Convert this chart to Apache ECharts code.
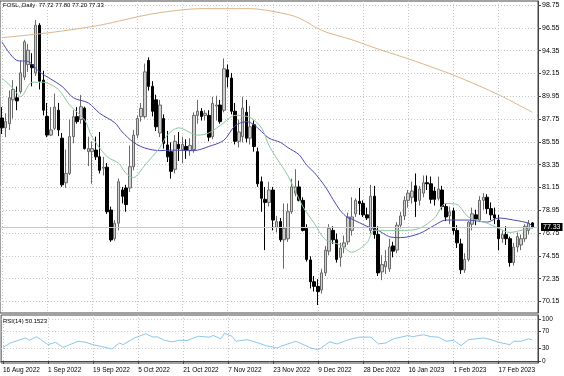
<!DOCTYPE html>
<html>
<head>
<meta charset="utf-8">
<title>FOSL Daily</title>
<script src="https://cdn.jsdelivr.net/npm/echarts/dist/echarts.min.js"></script>
<style>
  html, body { margin: 0; padding: 0; background: #fff; }
  #chart { width: 564px; height: 376px; }
</style>
</head>
<body>
<div id="chart"></div>
<script>
// trading days shown on the chart
var dates = ['16 Aug 2022','17 Aug 2022','18 Aug 2022','19 Aug 2022','22 Aug 2022','23 Aug 2022','24 Aug 2022','25 Aug 2022','26 Aug 2022','29 Aug 2022','30 Aug 2022','31 Aug 2022',
  '1 Sep 2022','2 Sep 2022','5 Sep 2022','6 Sep 2022','7 Sep 2022','8 Sep 2022','9 Sep 2022','12 Sep 2022','13 Sep 2022','14 Sep 2022','15 Sep 2022','16 Sep 2022',
  '19 Sep 2022','20 Sep 2022','21 Sep 2022','22 Sep 2022','23 Sep 2022','26 Sep 2022','27 Sep 2022','28 Sep 2022','29 Sep 2022','30 Sep 2022','3 Oct 2022','4 Oct 2022',
  '5 Oct 2022','6 Oct 2022','7 Oct 2022','10 Oct 2022','11 Oct 2022','12 Oct 2022','13 Oct 2022','14 Oct 2022','17 Oct 2022','18 Oct 2022','19 Oct 2022','20 Oct 2022',
  '21 Oct 2022','24 Oct 2022','25 Oct 2022','26 Oct 2022','27 Oct 2022','28 Oct 2022','30 Oct 2022','31 Oct 2022','1 Nov 2022','2 Nov 2022','3 Nov 2022','4 Nov 2022',
  '7 Nov 2022','8 Nov 2022','9 Nov 2022','10 Nov 2022','11 Nov 2022','14 Nov 2022','15 Nov 2022','16 Nov 2022','17 Nov 2022','18 Nov 2022','21 Nov 2022','22 Nov 2022',
  '23 Nov 2022','24 Nov 2022','25 Nov 2022','28 Nov 2022','29 Nov 2022','30 Nov 2022','1 Dec 2022','2 Dec 2022','5 Dec 2022','6 Dec 2022','7 Dec 2022','8 Dec 2022',
  '9 Dec 2022','12 Dec 2022','13 Dec 2022','14 Dec 2022','15 Dec 2022','16 Dec 2022','19 Dec 2022','20 Dec 2022','21 Dec 2022','22 Dec 2022','23 Dec 2022','27 Dec 2022',
  '28 Dec 2022','29 Dec 2022','30 Dec 2022','3 Jan 2023','4 Jan 2023','5 Jan 2023','6 Jan 2023','9 Jan 2023','10 Jan 2023','11 Jan 2023','12 Jan 2023','13 Jan 2023',
  '16 Jan 2023','17 Jan 2023','18 Jan 2023','19 Jan 2023','20 Jan 2023','23 Jan 2023','24 Jan 2023','25 Jan 2023','26 Jan 2023','27 Jan 2023','30 Jan 2023','31 Jan 2023',
  '1 Feb 2023','2 Feb 2023','3 Feb 2023','6 Feb 2023','7 Feb 2023','8 Feb 2023','9 Feb 2023','10 Feb 2023','13 Feb 2023','14 Feb 2023','15 Feb 2023','16 Feb 2023',
  '17 Feb 2023','20 Feb 2023','21 Feb 2023','22 Feb 2023','23 Feb 2023','24 Feb 2023','27 Feb 2023','28 Feb 2023','1 Mar 2023','2 Mar 2023'];

var opens = [87.85,86.9,87.3,89.6,89.8,90.4,91.8,93.0,93.0,92.2,96.8,91.5,
  88.0,86.2,86.85,88.6,85.9,81.6,82.5,86.05,87.98,87.7,88.8,84.6,
  84.6,84.75,84.1,83.0,83.1,78.97,76.2,77.7,80.9,81.1,81.1,83.15,
  86.2,87.98,87.98,93.4,90.9,89.6,86.4,87.8,85.25,84.6,82.9,85.3,
  84.8,85.1,84.7,84.8,88.1,88.5,88.1,88.1,86.05,89.0,89.1,88.6,
  92.5,91.7,88.5,85.6,86.05,88.4,85.9,87.2,84.6,81.7,80.0,79.7,
  80.9,77.3,77.85,76.1,76.2,78.8,80.6,81.2,79.9,77.2,74.15,72.05,
  71.6,71.25,72.9,75.0,77.0,76.1,74.4,75.4,75.9,77.0,78.6,79.8,
  79.6,78.5,77.0,80.3,76.6,73.0,73.5,73.3,75.5,75.1,77.5,78.4,
  79.9,80.2,81.3,79.9,80.6,81.6,81.5,80.8,80.1,80.9,79.3,78.4,
  78.9,77.0,75.7,73.2,74.2,77.6,78.5,78.0,79.9,80.2,79.1,78.5,
  78.0,76.2,76.6,76.2,73.9,75.4,75.6,76.2,77.0,77.72];

var highs = [88.9,88.3,90.5,91.5,90.9,93.4,95.4,95.0,94.1,97.3,97.0,92.4,
  89.3,88.9,90.2,89.3,86.4,84.8,87.7,88.6,88.9,90.07,88.94,86.05,
  85.6,86.05,86.5,84.1,83.5,79.3,78.0,82.0,81.2,81.4,85.2,86.7,
  88.1,89.3,93.1,93.7,91.4,90.1,89.6,88.2,86.6,85.5,86.2,86.5,
  86.0,85.8,85.9,88.4,89.6,88.8,88.6,88.6,89.9,90.0,89.6,93.6,
  93.0,92.2,89.3,87.7,89.9,89.6,89.0,87.6,85.0,82.2,81.2,81.7,
  81.2,78.4,78.2,79.6,79.6,82.0,82.9,81.8,80.2,77.6,74.5,72.6,
  72.3,73.3,75.5,77.6,77.4,76.7,75.8,76.5,78.7,80.2,80.1,81.1,
  79.9,79.2,81.4,81.3,77.4,74.6,75.1,76.2,75.9,77.8,78.8,80.3,
  80.9,81.7,82.5,81.3,82.3,82.3,82.2,81.2,82.2,81.3,79.6,79.3,
  79.2,77.5,76.2,74.8,77.9,79.2,79.0,80.3,80.6,80.5,79.7,79.2,
  78.5,77.0,77.4,76.4,75.8,76.8,76.6,77.6,78.0,77.80];

var lows = [86.3,86.0,86.7,87.8,88.6,90.2,91.5,92.3,90.9,91.9,90.6,88.1,
  86.0,86.1,86.7,86.1,81.2,81.1,82.35,85.4,87.3,87.3,84.8,83.2,
  81.5,83.8,82.5,82.3,78.6,75.9,76.0,77.0,79.6,78.8,80.7,82.8,
  85.9,87.5,87.8,90.5,88.0,86.6,86.0,84.9,83.6,82.0,82.5,83.7,
  83.5,83.9,84.2,84.5,87.3,87.6,87.6,85.6,85.8,87.6,87.3,88.4,
  90.8,88.2,85.3,85.0,85.5,85.5,85.3,84.6,81.2,78.8,75.1,79.3,
  77.0,76.8,75.9,73.3,75.9,78.6,80.3,79.8,76.9,74.0,71.4,71.1,
  69.8,70.9,72.6,74.6,75.7,73.9,73.5,74.8,75.6,76.5,78.3,78.5,
  78.3,78.0,76.7,76.2,72.6,72.2,72.8,73.0,74.4,74.8,77.2,78.0,
  79.2,79.6,78.3,79.4,80.2,80.9,79.6,79.4,79.9,79.0,77.9,77.6,
  76.6,75.3,72.8,72.9,74.0,77.0,77.5,77.8,79.0,78.6,78.0,77.6,
  75.1,75.8,75.6,73.5,73.6,74.9,75.1,75.9,76.6,77.20];

var closes = [86.9,87.5,89.8,90.6,89.5,92.2,95.2,94.4,92.7,96.8,91.4,88.6,
  86.2,86.7,88.9,86.7,81.4,82.5,86.05,87.98,87.5,88.94,84.9,84.9,
  84.9,84.1,82.8,83.1,78.8,76.08,77.7,81.7,80.3,79.5,83.15,86.2,
  87.8,88.78,92.3,90.9,88.5,87.0,89.1,85.4,84.1,82.7,85.6,84.9,
  85.3,84.7,85.2,88.1,88.5,88.0,88.3,86.0,89.26,89.1,87.5,92.6,
  91.8,88.5,85.6,86.5,88.8,85.9,87.0,85.1,81.5,80.1,79.7,80.9,
  78.0,77.85,76.1,77.2,78.8,81.2,81.2,79.9,77.0,74.2,72.05,71.6,
  71.1,72.9,75.1,77.2,76.1,74.2,75.3,75.8,78.3,78.3,79.9,79.6,
  78.5,78.2,80.3,76.6,72.9,73.7,74.0,75.4,75.0,77.5,78.4,79.9,
  80.6,80.8,79.8,81.0,81.6,81.5,80.0,80.0,81.0,79.3,78.3,78.8,
  77.0,75.8,73.2,74.2,77.8,78.6,78.1,79.9,80.2,79.1,78.5,78.2,
  76.2,76.6,76.2,73.9,75.4,76.4,76.2,77.4,77.7,77.33];

// moving averages: [bar index, price]
var maSlow = [[0,95.6],[13,96.1],[26,96.8],[40,97.9],[53,98.4],[66,98.4],[74,98.0],[79,97.5],[85,96.3],
  [93,95.4],[100,94.5],[106,93.8],[114,92.8],[122,91.7],[132,90.1],[141,88.4]];
var maMid = [[0,95.2],[4,93.4],[7,93.3],[10,92.3],[16,90.9],[19,89.8],[23,89.3],[26,88.3],[30,87.4],[32,86.5],
  [35,85.5],[38,84.95],[42,84.7],[45,84.75],[51,84.7],[55,85.1],[59,85.7],[62,87.1],[65,87.5],[67,87.2],
  [71,85.9],[74,85.5],[76,85.0],[79,84.3],[81,83.3],[83,82.6],[86,81.2],[88,80.0],[90,78.9],[92,78.2],
  [93,78.1],[97,77.4],[100,77.0],[103,76.4],[106,76.3],[111,76.7],[115,77.5],[118,78.0],[124,78.0],
  [129,77.8],[132,78.2],[136,78.0],[140,77.7],[141,77.4]];
var maFast = [[0,91.7],[3,90.7],[5,89.9],[8,91.3],[11,91.3],[15,90.6],[18,89.1],[22,87.65],[24,86.0],[28,84.1],
  [31,83.5],[33,82.5],[35,82.1],[38,83.3],[42,85.0],[44,86.2],[47,86.9],[52,86.2],[55,86.4],[59,87.4],
  [62,88.1],[66,87.9],[69,86.9],[71,85.2],[73,84.0],[76,82.3],[80,79.3],[83,77.7],[86,76.1],[90,75.6],
  [93,74.9],[97,75.8],[99,77.0],[103,77.0],[107,77.0],[111,77.2],[115,78.2],[118,79.6],[121,79.5],
  [124,78.3],[129,77.7],[132,77.2],[135,76.8],[138,77.0],[141,77.2]];

// RSI(14): [bar index, value]
var rsi = [[0,32.4],[2,43],[6,55],[7,49.5],[9,58],[12,39],[14,44.6],[16,32.4],[20,47],[22,44.6],[24,39],
  [26,35],[29,28.5],[31,43],[32,39],[35,55],[38,65],[40,57],[41,58],[43,49.5],[45,45.6],[47,49.5],
  [49,48.8],[52,59],[55,57],[56,61],[58,53],[59,66],[61,59],[62,47],[65,51],[68,43],[70,36.6],[73,31],
  [74,35],[78,47],[82,31],[84,26.8],[87,45.6],[89,40.7],[92,51],[95,57],[98,57],[100,40.7],[102,43],
  [104,53],[108,61],[109,58],[112,62.7],[114,58],[116,57],[118,47],[120,49.5],[122,36.6],[124,51],
  [126,53],[128,55],[130,51],[132,44.6],[135,39],[136,47],[138,47],[140,53],[141,50.2]];

var priceTicks = [70.15,72.35,74.55,76.75,78.95,81.15,83.35,85.55,87.75,89.95,92.15,94.35,96.55,98.75];
var rsiTicks = [0,30,70,100];
var rsiLevels = [30,70];
var lastPrice = 77.33;

var cats = dates.concat(['']);
var candles = opens.map(function (o, i) { return [o, closes[i], lows[i], highs[i]]; });
var labelEvery = function (i) { return i % 12 === 0 && i < dates.length; };

var font = 'Liberation Sans';
var gridLine = { show: true, interval: labelEvery, alignWithLabel: true,
  lineStyle: { color: '#c4c4c4', type: [1, 2], width: 1 } };

var chart = echarts.init(document.getElementById('chart'), null, { renderer: 'canvas' });
chart.setOption({
  animation: false,
  backgroundColor: '#fff',
  textStyle: { fontFamily: font },
  title: [
    { text: 'FOSL,,Daily  77.72 77.80 77.20 77.33', left: 3, top: 2, padding: 0,
      textStyle: { fontSize: 6, fontWeight: 'normal', color: '#000', fontFamily: font } },
    { text: 'RSI(14) 50.1523', left: 3, top: 318, padding: 0,
      textStyle: { fontSize: 6, fontWeight: 'normal', color: '#000', fontFamily: font } }
  ],
  grid: [
    { left: 0, right: 26, top: 1, height: 312, show: true, borderColor: '#444', borderWidth: 1 },
    { left: 0, right: 26, top: 315, height: 48, show: true, borderColor: '#444', borderWidth: 1 }
  ],
  xAxis: [
    { type: 'category', gridIndex: 0, data: cats, boundaryGap: true,
      axisLine: { show: false }, axisTick: { show: false }, axisLabel: { show: false },
      splitLine: gridLine },
    { type: 'category', gridIndex: 1, data: cats, boundaryGap: true,
      axisLine: { show: true, lineStyle: { color: '#444' } },
      axisTick: { show: true, interval: labelEvery, alignWithLabel: true, length: 3, lineStyle: { color: '#444' } },
      axisLabel: { show: true, interval: labelEvery, align: 'left', margin: 4, fontSize: 6.5, color: '#000', fontFamily: font },
      splitLine: gridLine }
  ],
  yAxis: [
    { type: 'value', gridIndex: 0, position: 'right', min: 69.03, max: 99.14, scale: true,
      axisLine: { show: true, lineStyle: { color: '#444' } },
      axisTick: { show: true, length: 3, customValues: priceTicks, lineStyle: { color: '#444' } },
      axisLabel: { show: true, customValues: priceTicks, margin: 4, fontSize: 7, color: '#000', fontFamily: font,
        formatter: function (v) { return v.toFixed(2); } },
      splitLine: { show: true, customValues: priceTicks, lineStyle: { color: '#c4c4c4', type: [1, 2] } } },
    { type: 'value', gridIndex: 1, position: 'right', min: -5, max: 110,
      axisLine: { show: true, lineStyle: { color: '#444' } },
      axisTick: { show: true, length: 3, customValues: rsiTicks, lineStyle: { color: '#444' } },
      axisLabel: { show: true, customValues: rsiTicks, margin: 4, fontSize: 6.5, color: '#000', fontFamily: font },
      splitLine: { show: true, customValues: rsiLevels, lineStyle: { color: '#c4c4c4', type: [1, 2] } } }
  ],
  series: [
    {
      name: 'FOSL', type: 'candlestick', xAxisIndex: 0, yAxisIndex: 0,
      data: candles, barWidth: 3,
      itemStyle: { color: '#cfcfcf', color0: '#000', borderColor: '#6a6a6a', borderColor0: '#000', borderWidth: 1 },
      markLine: {
        silent: true, symbol: 'none',
        lineStyle: { color: '#c8c8c8', type: 'solid', width: 1 },
        label: { position: 'end', distance: 3, formatter: lastPrice.toFixed(2), color: '#fff',
          backgroundColor: '#000', padding: [1, 2, 0, 2], fontSize: 7, fontFamily: font },
        data: [{ yAxis: lastPrice }]
      },
      z: 3
    },
    { name: 'MA slow', type: 'line', xAxisIndex: 0, yAxisIndex: 0, data: maSlow,
      symbol: 'none', smooth: 0.3, lineStyle: { color: '#dcb68a', width: 1 }, z: 4 },
    { name: 'MA mid', type: 'line', xAxisIndex: 0, yAxisIndex: 0, data: maMid,
      symbol: 'none', smooth: 0.3, lineStyle: { color: '#4a4ab4', width: 1 }, z: 4 },
    { name: 'MA fast', type: 'line', xAxisIndex: 0, yAxisIndex: 0, data: maFast,
      symbol: 'none', smooth: 0.3, lineStyle: { color: '#8cc8a2', width: 1 }, z: 4 },
    { name: 'RSI', type: 'line', xAxisIndex: 1, yAxisIndex: 1, data: rsi,
      symbol: 'none', lineStyle: { color: '#8cc6ea', width: 1 } }
  ]
});
</script>
</body>
</html>
